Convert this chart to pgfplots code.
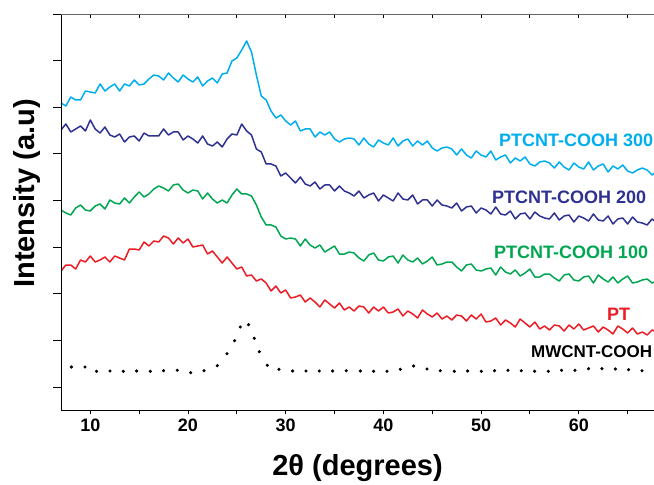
\documentclass[border=0pt]{standalone}
\usepackage{pgfplots}
\pgfplotsset{compat=1.18}
\usepackage{pgfplotstable}
\usepackage{fontspec}
\setmainfont{Liberation Sans}
\definecolor{cCyan}{RGB}{0,174,239}
\definecolor{cNavy}{RGB}{46,49,146}
\definecolor{cGreen}{RGB}{0,166,81}
\definecolor{cRed}{RGB}{237,28,36}

% x  PTCNT-COOH300  PTCNT-COOH200  PTCNT-COOH100  PT
\pgfplotstableread{
x c300 c200 c100 pt
7.0 307 280 200 139
7.5 304 286 197 145
8.0 313 278 195 145
8.5 310 281 202 141
9.0 310 284 205 150
9.5 319 279 200 148
10.0 318 290 199 154
10.5 317 281 204 148
11.0 326 277 206 150
11.5 319 283 201 153
12.0 323 275 210 148
12.5 326 273 207 154
13.0 319 276 206 152
13.5 326 268 212 150
14.0 324 273 207 161
14.5 330 274 213 161
15.0 325 269 218 160
15.5 326 277 213 168
16.0 331 274 216 164
16.5 335 274 221 169
17.0 334 274 224 168
17.5 330 281 222 174
18.0 337 275 219 172
18.5 332 278 225 166
19.0 328 278 226 172
19.5 335 270 220 167
20.0 331 274 217 171
20.5 328 271 220 163
21.0 333 267 219 164
21.5 324 274 211 165
22.0 329 266 217 156
22.5 332 264 211 159
23.0 327 268 207 153
23.5 336 263 210 147
24.0 337 271 207 153
24.5 349 276 215 147
25.0 352 275 221 141
25.5 360 286 216 143
26.0 369 279 216 134
26.5 358 275 214 135
27.0 335 261 205 129
27.5 314 258 193 131
28.0 310 246 185 127
28.5 299 246 185 119
29.0 292 244 183 124
29.5 295 234 174 117
30.0 289 237 171 120
30.5 285 232 172 112
31.0 289 227 171 113
31.5 279 233 164 115
32.0 281 226 171 108
32.5 281 224 165 112
33.0 273 228 162 108
33.5 278 221 165 103
34.0 275 225 158 110
34.5 278 225 161 106
35.0 271 219 164 102
35.5 268 224 156 107
36.0 271 219 156 100
36.5 272 217 158 103
37.0 271 214 157 99
37.5 265 219 152 104
38.0 272 212 149 103
38.5 266 215 155 97
39.0 263 217 157 103
39.5 270 209 150 99
40.0 267 215 149 103
40.5 265 212 153 97
41.0 272 209 154 98
41.5 264 217 147 101
42.0 269 211 155 94
42.5 271 210 150 99
43.0 264 215 148 96
43.5 269 206 152 92
44.0 265 210 146 100
44.5 269 210 149 96
45.0 262 204 153 93
45.5 259 210 145 97
46.0 262 205 146 91
46.5 263 204 148 94
47.0 261 202 148 90
47.5 255 207 143 95
48.0 261 199 139 94
48.5 255 203 145 89
49.0 252 204 146 95
49.5 259 197 140 91
50.0 255 202 139 96
50.5 253 200 141 88
51.0 259 196 142 89
51.5 250 203 135 92
52.0 253 196 143 85
52.5 255 195 138 90
53.0 247 199 136 87
53.5 252 191 140 83
54.0 249 196 134 91
54.5 253 197 137 87
55.0 246 191 141 83
55.5 244 198 133 88
56.0 248 194 133 81
56.5 249 192 136 84
57.0 247 191 136 80
57.5 242 197 132 85
58.0 248 190 129 84
58.5 243 194 135 79
59.0 240 195 136 85
59.5 247 188 130 81
60.0 243 194 129 86
60.5 241 192 133 80
61.0 248 189 134 82
61.5 240 196 127 84
62.0 244 190 135 78
62.5 246 189 131 83
63.0 238 194 128 80
63.5 244 186 133 76
64.0 241 191 127 84
64.5 245 192 131 81
65.0 239 186 134 77
65.5 237 193 127 82
66.0 240 188 128 76
66.5 242 187 130 78
67.0 240 185 131 75
67.5 235 191 127 80
68.0 239 187 129 78
}\xrd

% MWCNT-COOH (dotted)
\pgfplotstableread{
x y
8.06 43
9.46 43
10.64 38.7
12.02 39
13.38 38.7
14.74 39
16.14 38.7
17.50 39.3
18.90 39.7
20.27 37.3
21.64 39.3
23.00 44.3
23.99 56.3
24.77 69.3
25.35 83
26.20 85.3
26.79 71.7
27.30 58.3
28.12 44.7
29.31 40.7
30.71 39
32.08 39
33.44 39
34.80 39
36.20 39.3
37.64 39
39.00 38.7
40.37 38.7
41.73 40.7
43.09 44
44.46 41
45.82 39.3
47.26 38.7
48.62 39
50.02 38.7
51.38 39.3
52.75 39.7
54.11 39.3
55.48 38.7
56.88 38.7
58.24 39.7
59.61 39.7
61.00 41.3
62.37 41.3
63.74 41
65.10 40.3
66.47 39.3
}\mw

\begin{document}
\begin{tikzpicture}
\pgfplotsset{base/.style={scale only axis, width=593pt, height=396pt,
  xmin=7, xmax=67.7, ymin=0, ymax=396,
  axis line style={line width=0.9pt, black}, tick style={line width=0.9pt, black}}}
\begin{axis}[base,
  axis x line*=bottom, axis y line*=left,
  ytick=\empty,
  xtick={10,15,...,65}, xticklabels={10,,20,,30,,40,,50,,60,},
  tick align=outside, major tick length=4pt,
  xticklabel style={font=\bfseries\fontsize{18}{20}\selectfont, yshift=-1pt},
  xlabel={2θ (degrees)},
  xlabel style={font=\bfseries\fontsize{29}{32}\selectfont, at={(rel axis cs:0.5,-0.166)}, anchor=base},
  ylabel={Intensity (a.u)},
  ylabel style={font=\bfseries\fontsize{29}{32}\selectfont, at={(rel axis cs:-0.058,0.547)}, anchor=center},
]
\addplot[cCyan, line width=1.5pt, line join=round] table[x=x, y=c300] {\xrd};
\addplot[cNavy, line width=1.5pt, line join=round] table[x=x, y=c200] {\xrd};
\addplot[cGreen, line width=1.5pt, line join=round] table[x=x, y=c100] {\xrd};
\addplot[cRed, line width=1.5pt, line join=round] table[x=x, y=pt] {\xrd};
\addplot[only marks, mark=*, mark size=1.4pt, black] table[x=x, y=y] {\mw};
\node[anchor=east, inner sep=0, text=cCyan, font=\bfseries\fontsize{18}{20}\selectfont] at (axis cs:67.63,270) {PTCNT-COOH 300};
\node[anchor=east, inner sep=0, text=cNavy, font=\bfseries\fontsize{18}{20}\selectfont] at (axis cs:66.91,213) {PTCNT-COOH 200};
\node[anchor=east, inner sep=0, text=cGreen, font=\bfseries\fontsize{18}{20}\selectfont] at (axis cs:67.11,157.5) {PTCNT-COOH 100};
\node[anchor=east, inner sep=0, text=cRed, font=\bfseries\fontsize{18}{20}\selectfont] at (axis cs:65.27,96) {PT};
\node[anchor=east, inner sep=0, text=black, font=\bfseries\fontsize{17}{20}\selectfont] at (axis cs:67.52,58.5) {MWCNT-COOH};
\end{axis}
\begin{axis}[base, axis x line=none, axis y line*=left,
  ytick={23,70,117,163,210,257,303,350,396}, yticklabels={},
  tick align=outside, major tick length=8pt]
\end{axis}
\begin{axis}[base, axis y line=none, axis x line*=top,
  xtick={10,15,...,65}, xticklabels={},
  tick align=inside, major tick length=4pt,
  axis line style={line width=0.9pt, black!60}]
\coordinate (SW) at (rel axis cs:0,0);
\coordinate (NE) at (rel axis cs:1,1);
\end{axis}
\pgfresetboundingbox
\path ([shift={(-61pt,-74pt)}]SW) rectangle ([shift={(0pt,14pt)}]NE);
\end{tikzpicture}
\end{document}
